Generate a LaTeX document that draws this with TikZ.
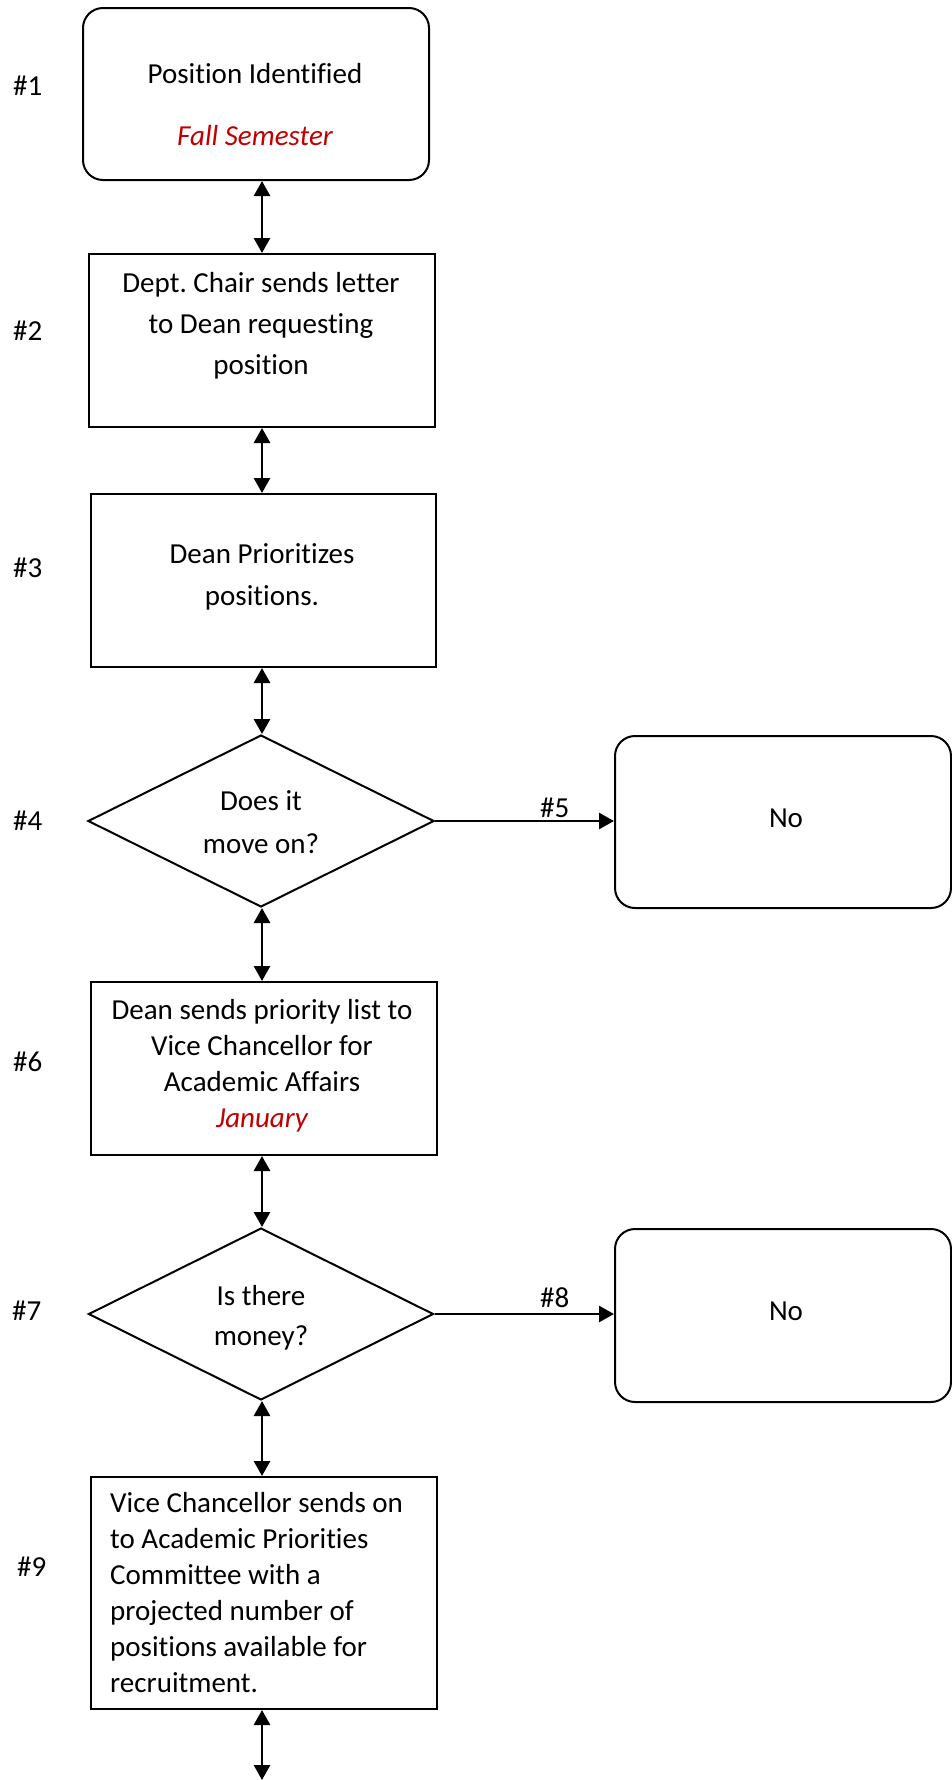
\documentclass[tikz,border=0pt]{standalone}
\usepackage{fontspec}
\setmainfont[Ligatures=NoCommon]{Carlito}
\usetikzlibrary{shapes.geometric,arrows.meta}
\definecolor{dred}{HTML}{C00000}
\frenchspacing
\begin{document}
\begin{tikzpicture}[x=1pt,y=-1pt,
  every node/.style={font=\fontsize{29}{41}\selectfont},
  procbox/.style={draw, line width=2pt, rectangle, inner sep=0pt, minimum width=346pt, anchor=north west},
  roundbox/.style={procbox, rounded corners=20pt},
  decision/.style={draw, line width=2pt, diamond, inner sep=0pt},
  txt/.style={align=center, inner sep=0pt, anchor=base},
  steplabel/.style={inner sep=0pt, anchor=base west},
  dbl/.style={line width=2.8pt, {Triangle[length=15pt,width=16pt]}-{Triangle[length=15pt,width=16pt]}},
  sgl/.style={line width=2.8pt, -{Triangle[length=15pt,width=16pt]}}]
\useasboundingbox (0,0) rectangle (952,1780);
\coordinate (ax) at (262,0);
\coordinate (endpt) at (262,1780);
% shapes
\node[roundbox, minimum height=172pt] (b1) at (82,7) {};
\node[procbox, minimum height=173pt] (b2) at (88,253) {};
\node[procbox, minimum height=173pt, minimum width=345pt] (b3) at (90,493) {};
\node[decision, minimum width=346pt, minimum height=172pt] (d4) at (261,821) {};
\node[roundbox, minimum height=172pt, minimum width=336pt] (n1) at (614,735) {};
\node[procbox, minimum height=173pt] (b6) at (90,981) {};
\node[decision, minimum width=345pt, minimum height=172pt] (d7) at (261,1314) {};
\node[roundbox, minimum height=173pt, minimum width=336pt] (n2) at (614,1228) {};
\node[procbox, minimum height=232pt] (b9) at (90,1476) {};
% texts (base anchor = baseline of the last line)
\node[txt] (t1a) at (255,83) {Position Identified};
\node[txt, text=dred, font=\fontsize{29}{41}\selectfont\itshape] (t1b) at (255,145) {Fall Semester};
\node[txt] (t2) at (261,374) {Dept. Chair sends letter\\to Dean requesting\\position};
\node[txt, font=\fontsize{29}{42}\selectfont] (t3) at (262,605) {Dean Prioritizes\\positions.};
\node[txt, font=\fontsize{29}{43}\selectfont] (t4) at (261,853) {Does it\\move on?};
\node[txt] (tn1) at (786,827) {No};
\node[txt, font=\fontsize{29}{36}\selectfont] (t6) at (262,1127) {Dean sends priority list to\\Vice Chancellor for\\Academic Affairs\\\textcolor{dred}{\itshape January}};
\node[txt, font=\fontsize{29}{40}\selectfont] (t7) at (261,1345) {Is there\\money?};
\node[txt] (tn2) at (786,1320) {No};
\node[txt, align=left, anchor=base west, font=\fontsize{29}{36}\selectfont] (t9) at (110,1692) {Vice Chancellor sends on\\to Academic Priorities\\Committee with a\\projected number of\\positions available for\\recruitment.};
% step labels
\node[steplabel] (l1) at (13,95) {\#1};
\node[steplabel] (l2) at (13,340) {\#2};
\node[steplabel] (l3) at (13,577) {\#3};
\node[steplabel] (l4) at (13,830) {\#4};
\node[steplabel] (l5) at (540,817) {\#5};
\node[steplabel] (l6) at (13,1071) {\#6};
\node[steplabel] (l7) at (12,1320) {\#7};
\node[steplabel] (l8) at (540,1307) {\#8};
\node[steplabel] (l9) at (17,1576) {\#9};
% connectors
\draw[dbl] (b1.south -| ax) -- (b2.north -| ax);
\draw[dbl] (b2.south -| ax) -- (b3.north -| ax);
\draw[dbl] (b3.south -| ax) -- (d4.north -| ax);
\draw[sgl] (d4.east) -- (d4.east -| n1.west);
\draw[dbl] (d4.south -| ax) -- (b6.north -| ax);
\draw[dbl] (b6.south -| ax) -- (d7.north -| ax);
\draw[sgl] (d7.east) -- (d7.east -| n2.west);
\draw[dbl] (d7.south -| ax) -- (b9.north -| ax);
\draw[dbl] (b9.south -| ax) -- (endpt);
\end{tikzpicture}
\end{document}
